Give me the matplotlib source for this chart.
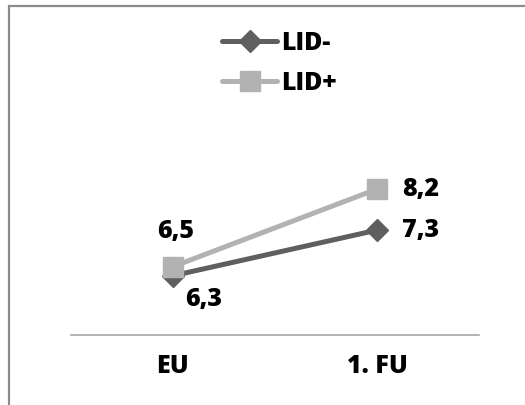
import matplotlib.pyplot as plt
import matplotlib.patches as patches

# values per follow-up visit
categories = ["EU", "1. FU"]
lid_minus = [6.3, 7.3]
lid_plus = [6.5, 8.2]
series_names = ["LID-", "LID+"]

DARK = "#5f5f5f"
LIGHT = "#b2b2b2"
WEIGHT = 800

plt.rcParams['font.family'] = ['Open Sans', 'DejaVu Sans']
plt.rcParams['font.weight'] = WEIGHT

fig = plt.figure(figsize=(5.25, 4.05), dpi=100)
ax = fig.add_axes([71 / 525, 1 - 335 / 405, 408 / 525, (335 - 107) / 405])

x = list(range(len(categories)))
ax.plot(x, lid_minus, color=DARK, lw=3.6, marker='D', ms=11,
        solid_capstyle='round', label=series_names[0], zorder=3)
ax.plot(x, lid_plus, color=LIGHT, lw=3.6, marker='s', ms=14,
        solid_capstyle='round', label=series_names[1], zorder=4)

fs = 18


def fmt(v):
    return f"{v:.1f}".replace('.', ',')


# value labels
ax.annotate(fmt(lid_plus[0]), (x[0], lid_plus[0]),
            xytext=(2, 25), textcoords='offset points', ha='center', va='center',
            fontsize=fs, fontweight=WEIGHT)
ax.annotate(fmt(lid_minus[0]), (x[0], lid_minus[0]),
            xytext=(22, -17), textcoords='offset points', ha='center', va='center',
            fontsize=fs, fontweight=WEIGHT)
ax.annotate(fmt(lid_plus[1]), (x[1], lid_plus[1]),
            xytext=(18, 0), textcoords='offset points', ha='left', va='center',
            fontsize=fs, fontweight=WEIGHT)
ax.annotate(fmt(lid_minus[1]), (x[1], lid_minus[1]),
            xytext=(18, 0), textcoords='offset points', ha='left', va='center',
            fontsize=fs, fontweight=WEIGHT)

ax.set_xlim(-0.5, 1.5)
ax.set_ylim(5, 10)
ax.set_xticks(x)
ax.set_xticklabels(categories, fontsize=fs, fontweight=WEIGHT)
ax.tick_params(axis='x', length=0, pad=14)
ax.set_yticks([])
for side in ('left', 'right', 'top'):
    ax.spines[side].set_visible(False)
ax.spines['bottom'].set_color('#a6a6a6')
ax.spines['bottom'].set_linewidth(1.2)

leg = fig.legend(loc='center', bbox_to_anchor=(0.532, 1 - 63 / 405),
                 frameon=False, fontsize=fs, handlelength=2.2,
                 handletextpad=0.15, labelspacing=0.6, borderpad=0)
for t in leg.get_texts():
    t.set_fontweight(WEIGHT)

# outer chart frame
fig.patches.append(patches.Rectangle((9 / 525, -0.1), 1.2, 1.1 - 6 / 405,
                                     transform=fig.transFigure, fill=False,
                                     edgecolor='#8c8c8c', linewidth=1.6))

fig.savefig("out.png", dpi=100)
